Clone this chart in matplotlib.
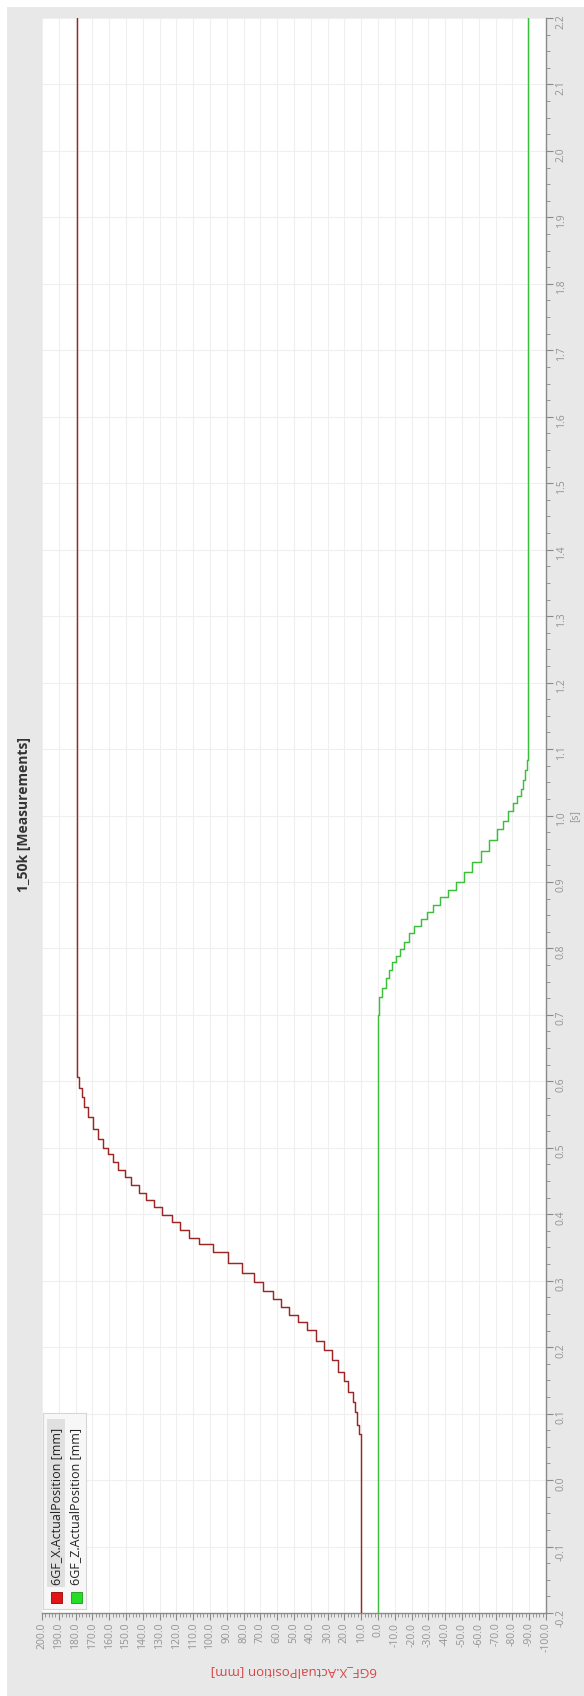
import numpy as np
import matplotlib
matplotlib.use("Agg")
import matplotlib.pyplot as plt
from matplotlib.patches import Rectangle
from matplotlib.ticker import MultipleLocator, FuncFormatter

plt.rcParams['font.family'] = ['Open Sans', 'DejaVu Sans']
plt.rcParams['axes.unicode_minus'] = False

# --- measurement data: step times [s] and axis positions [mm] held from that time on ---
x_time = [-0.2, 0.070, 0.083, 0.103, 0.118, 0.133, 0.149, 0.163, 0.180, 0.195,
          0.210, 0.226, 0.238, 0.249, 0.260, 0.272, 0.284, 0.298, 0.312, 0.327,
          0.343, 0.355, 0.365, 0.376, 0.388, 0.399, 0.411, 0.422, 0.432, 0.444,
          0.456, 0.467, 0.478, 0.490, 0.499, 0.513, 0.529, 0.546, 0.561, 0.576,
          0.590, 0.607, 2.2]
x_pos = [10.0, 11.3, 12.3, 13.7, 15.1, 17.7, 20.2, 23.6, 27.6, 32.0,
         37.1, 42.1, 47.8, 52.8, 57.7, 62.7, 68.3, 73.8, 80.8, 89.5,
         98.0, 106.4, 112.3, 117.9, 122.8, 128.8, 133.2, 138.1, 142.3, 147.0,
         150.6, 154.6, 157.9, 160.9, 163.5, 166.5, 169.4, 172.4, 174.8, 176.4,
         178.0, 179.4, 179.4]

z_time = [-0.2, 0.700, 0.727, 0.741, 0.755, 0.767, 0.779, 0.789, 0.799, 0.810,
          0.823, 0.833, 0.844, 0.855, 0.865, 0.877, 0.888, 0.900, 0.915, 0.930,
          0.947, 0.963, 0.979, 0.992, 1.007, 1.019, 1.029, 1.040, 1.053, 1.068,
          1.083, 2.2]
z_pos = [0.0, -0.5, -2.2, -4.6, -6.5, -8.5, -10.5, -13.1, -15.7, -18.5,
         -21.6, -25.4, -29.4, -32.9, -36.9, -41.5, -46.4, -51.2, -56.0, -61.3,
         -66.1, -70.6, -74.6, -77.6, -80.5, -82.9, -84.9, -86.5, -87.5, -88.5,
         -89.0, -89.0]

series_names = ['6GF_X.ActualPosition [mm]', '6GF_Z.ActualPosition [mm]']
title_text = '1_50k [Measurements]'
time_label = '[s]'

W, H = 584, 1696


def fx(px):
    return px / W


def fy(py):
    return 1 - py / H


fig = plt.figure(figsize=(W / 100, H / 100), dpi=100, facecolor='white')

# grey panel behind the plot
fig.patches.append(Rectangle((fx(7), 0), 1 - fx(7), fy(7), transform=fig.transFigure,
                             facecolor='#e8e8e8', edgecolor='none', zorder=-10))

ax = fig.add_axes([fx(42), fy(1613), fx(546) - fx(42), fy(18) - fy(1613)])
ax.set_zorder(1)
ax.set_facecolor('white')

ax.plot(x_pos, x_time, drawstyle='steps-pre', color='#9c2626', lw=1.05, zorder=3)
ax.plot(z_pos, z_time, drawstyle='steps-pre', color='#3cc03c', lw=1.05, zorder=3)

ax.set_xlim(200, -100)
ax.set_ylim(-0.2, 2.2)

ax.xaxis.set_major_locator(MultipleLocator(10))
ax.xaxis.set_minor_locator(MultipleLocator(2))
ax.yaxis.set_major_locator(MultipleLocator(0.1))
ax.yaxis.set_minor_locator(MultipleLocator(0.025))
ax.xaxis.set_major_formatter(FuncFormatter(lambda v, p: f"{v:.1f}"))
ax.yaxis.set_major_formatter(FuncFormatter(lambda v, p: f"{v:.1f}"))

ax.yaxis.tick_right()
ax.yaxis.set_label_position('right')

for side in ('top', 'left'):
    ax.spines[side].set_visible(False)
for side in ('bottom', 'right'):
    ax.spines[side].set_color('#8a8a8a')
    ax.spines[side].set_linewidth(1.0)

tick_grey = '#8a8a8a'
ax.tick_params(axis='x', which='major', length=5, width=0.8, color=tick_grey,
               labelcolor='#949494', labelsize=7.5, labelrotation=90, pad=2)
ax.tick_params(axis='x', which='minor', length=3, width=0.6, color=tick_grey)
ax.tick_params(axis='y', which='major', length=5, width=0.8, color=tick_grey,
               labelcolor='#949494', labelsize=7.5, labelrotation=90, pad=2)
ax.tick_params(axis='y', which='minor', length=3, width=0.6, color=tick_grey)

ax.grid(True, which='major', color='#efefef', lw=0.8, zorder=0)
ax.set_axisbelow(True)

ax.set_xlabel(series_names[0], rotation=180, color='#d64545', fontsize=9.5, labelpad=9)
ax.set_ylabel(time_label, rotation=90, color='#949494', fontsize=7.5, labelpad=2)

fig.text(fx(24), fy(815), title_text, rotation=90, ha='center', va='center',
         fontsize=10, fontweight='bold', color='#333333')

# legend panel in the lower left corner
fig.patches.append(Rectangle((fx(43), fy(1609)), fx(86) - fx(43), fy(1413) - fy(1609),
                             transform=fig.transFigure, facecolor='#f7f7f7',
                             edgecolor='#d6d6d6', lw=0.8, zorder=5))
fig.patches.append(Rectangle((fx(47), fy(1587)), fx(65) - fx(47), fy(1419) - fy(1587),
                             transform=fig.transFigure, facecolor='#e0e0e0',
                             edgecolor='none', zorder=6))
swatches = ['#e01515', '#25dd25']
edges = ['#9a0000', '#169a16']
cols = [56.5, 76.0]
for name, c, ec, cx in zip(series_names, swatches, edges, cols):
    fig.patches.append(Rectangle((fx(cx - 5.5), fy(1602.5)), 11 / W, 11 / H,
                                 transform=fig.transFigure, facecolor=c,
                                 edgecolor=ec, lw=0.6, zorder=7))
    fig.text(fx(cx), fy(1585), name, rotation=90, ha='center', va='bottom',
             fontsize=9, color='#222222', zorder=8)

fig.savefig('out.png', dpi=100, facecolor='white')
